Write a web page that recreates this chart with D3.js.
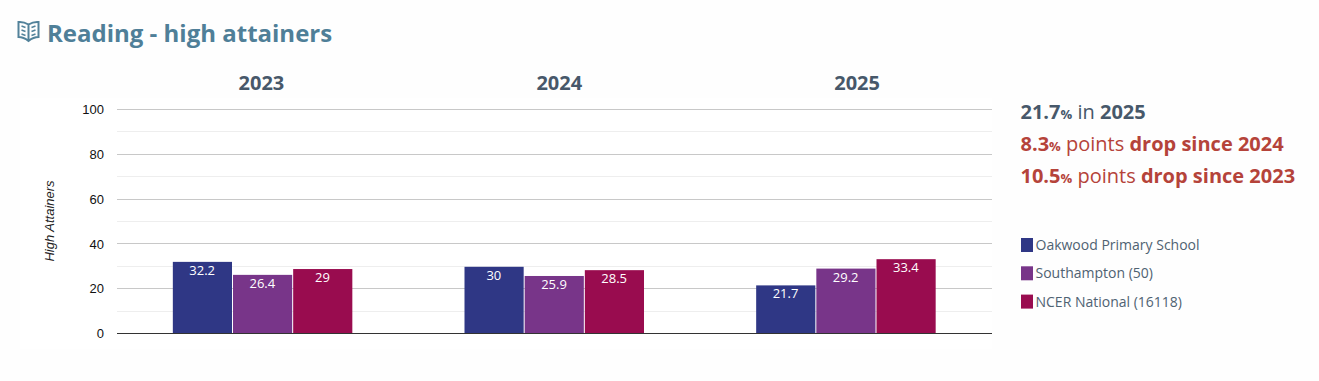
<!DOCTYPE html>
<html><head><meta charset="utf-8">
<script src="https://cdn.jsdelivr.net/npm/d3@7/dist/d3.min.js"></script>
<style>
html,body{margin:0;padding:0;background:#fefefe;overflow:hidden}
svg{display:block}
text{font-family:"Open Sans",sans-serif}
</style></head><body>
<svg id="c" width="1319" height="381"></svg>
<script>
const years = ["2023","2024","2025"];
const seriesNames = ["Oakwood Primary School","Southampton (50)","NCER National (16118)"];
const oakwood = [32.2,30,21.7];
const southampton = [26.4,25.9,29.2];
const national = [29,28.5,33.4];
const colors = ["#2f3785","#783589","#990c4f"];
const majorTicks = [0,20,40,60,80,100];
const minorTicks = [10,30,50,70,90];
const titleText = "Reading - high attainers";
const yTitle = "High Attainers";
const allSeries = [oakwood,southampton,national];

const svg = d3.select("#c");
const m = {l:117,r:992,t:109,b:333};
svg.append("rect").attr("x",20).attr("y",98).attr("width",m.r-20).attr("height",251).attr("fill","#fff");

const x = d3.scaleBand().domain(years).range([m.l,m.r]);
const hx = d3.scaleBand().domain(years).range([112.5,1006]);
const groupW = 180.5;
const inner = d3.scaleBand().domain(d3.range(seriesNames.length)).range([0,groupW]);
const y = d3.scaleLinear().domain([0,100]).range([m.b,m.t]);

// title
const icon = svg.append("g").attr("transform","translate(17.5,20)").attr("fill","none").attr("stroke","#52829a").attr("stroke-width",2);
icon.append("path").attr("d","M1 2 L1 17 Q6 17 11 21 Q16 17 21 17 L21 2 Q16 1.5 11 4.5 Q6 1.5 1 2 Z M11 4.5 L11 21");
icon.append("path").attr("stroke-width",1.5).attr("d","M4 6 L8 7.5 M4 10 L8 11.5 M4 14 L8 15.5 M18 6 L14 7.5 M18 10 L14 11.5 M18 14 L14 15.5");
svg.append("text").attr("x",47).attr("y",42).attr("font-size",24).attr("font-weight",700).attr("fill","#4f7f98").text(titleText);

// grid
svg.append("g").selectAll("line").data(minorTicks).join("line")
  .attr("x1",m.l).attr("x2",m.r).attr("y1",d=>Math.round(y(d))+.5).attr("y2",d=>Math.round(y(d))+.5)
  .attr("stroke","#eeeeee");
svg.append("g").selectAll("line").data(majorTicks.slice(1)).join("line")
  .attr("x1",m.l).attr("x2",m.r).attr("y1",d=>Math.round(y(d))+.5).attr("y2",d=>Math.round(y(d))+.5)
  .attr("stroke","#c8c8c8");

// y axis
const ya = svg.append("g").attr("transform",`translate(${m.l},0.5)`)
  .call(d3.axisLeft(y).tickValues(majorTicks).tickSize(0).tickPadding(13));
ya.select(".domain").remove();
ya.selectAll("text").attr("font-size",13).style("font-family","'Liberation Sans',Arial,sans-serif").attr("fill","#111");

svg.append("text").attr("transform","translate(54,221) rotate(-90)").attr("text-anchor","middle")
  .attr("font-size",13).attr("font-style","italic").style("font-family","'Liberation Sans',Arial,sans-serif").attr("fill","#222").text(yTitle);

// year headers
svg.append("g").selectAll("text").data(years).join("text")
  .attr("x",d=>hx(d)+hx.bandwidth()/2).attr("y",90).attr("text-anchor","middle")
  .attr("font-size",20).attr("font-weight",700).attr("fill","#47586a").text(d=>d);

// bars
const groups = svg.append("g").selectAll("g").data(years).join("g")
  .attr("transform",d=>`translate(${x(d)+x.bandwidth()/2-groupW/2+.25},1)`);
allSeries.forEach((vals,si)=>{
  groups.append("rect")
    .attr("x",inner(si)).attr("width",inner.bandwidth()-1)
    .attr("y",(d,i)=>y(vals[i])).attr("height",(d,i)=>m.b-y(vals[i]))
    .attr("fill",colors[si]);
  groups.append("text")
    .attr("x",inner(si)+inner.bandwidth()/2-.75)
    .attr("y",(d,i)=>y(vals[i])+13).attr("text-anchor","middle")
    .attr("font-size",13).attr("fill","#fff").text((d,i)=>vals[i]);
});

// baseline
svg.append("line").attr("x1",m.l).attr("x2",m.r).attr("y1",333.5).attr("y2",333.5).attr("stroke","#333");

// summary
function line(yy,fill,parts){
  const t = svg.append("text").attr("x",1020.5).attr("y",yy).attr("fill",fill).attr("font-size",20);
  parts.forEach(([s,w,fs])=>{t.append("tspan").attr("font-weight",w).attr("font-size",fs||20).text(s);});
}
line(119,"#47586a",[["21.7",700],["%",700,13],[" in ",400],["2025",700]]);
line(151,"#b5433a",[["8.3",700],["%",700,13],[" points ",400],["drop since 2024",700]]);
line(183,"#b5433a",[["10.5",700],["%",700,13],[" points ",400],["drop since 2023",700]]);

// legend
const lg = svg.append("g").selectAll("g").data(seriesNames).join("g")
  .attr("transform",(d,i)=>`translate(1021,${238+i*28.3})`);
lg.append("rect").attr("width",12).attr("height",14).attr("fill",(d,i)=>colors[i]);
lg.append("text").attr("x",14.5).attr("y",12).attr("font-size",14).attr("fill","#4f6272").text(d=>d);
</script>
</body></html>
